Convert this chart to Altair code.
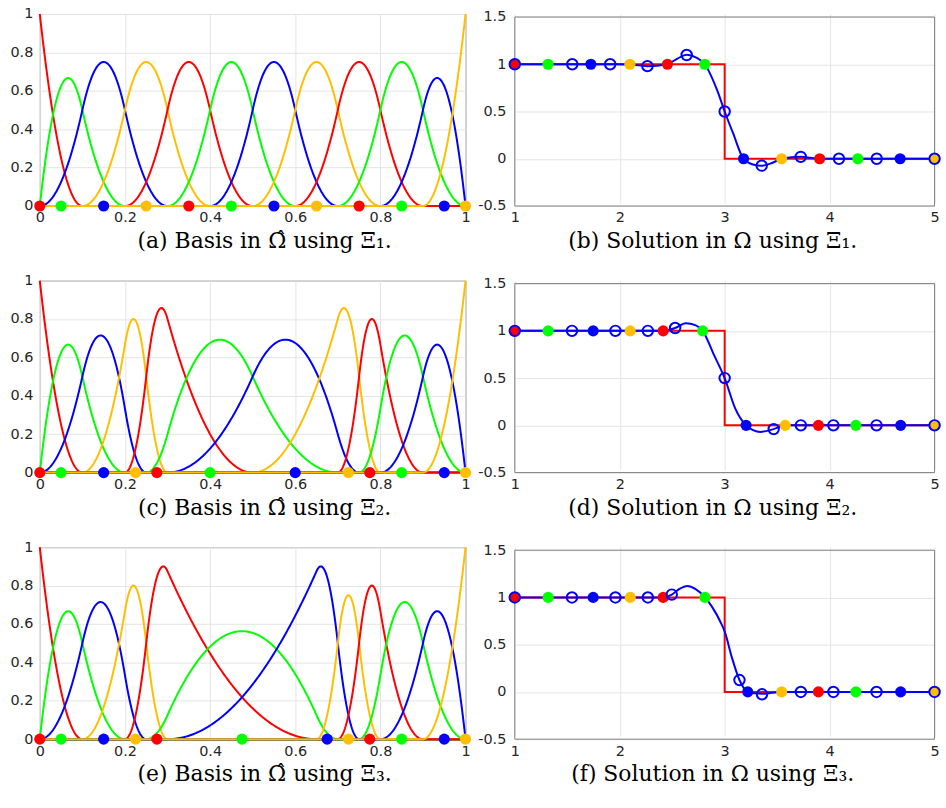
import altair as alt
import numpy as np
import pandas as pd

# ---------------------------------------------------------------------------
# Quadratic B-spline knot vectors on the reference interval [0, 1]
# ---------------------------------------------------------------------------
DEGREE = 2
knots_1 = [0, 0, 0, 0.1, 0.2, 0.3, 0.4, 0.5, 0.6, 0.7, 0.8, 0.9, 1, 1, 1]
knots_2 = [0, 0, 0, 0.1, 0.2, 0.25, 0.3, 0.5, 0.7, 0.75, 0.8, 0.9, 1, 1, 1]
knots_3 = [0, 0, 0, 0.1, 0.2, 0.25, 0.3, 0.65, 0.7, 0.75, 0.8, 0.9, 1, 1, 1]

# Greville abscissae (marker positions on the reference interval)
greville_1 = [0, 0.05, 0.15, 0.25, 0.35, 0.45, 0.55, 0.65, 0.75, 0.85, 0.95, 1]
greville_2 = [0, 0.05, 0.15, 0.225, 0.275, 0.4, 0.6, 0.725, 0.775, 0.85, 0.95, 1]
greville_3 = [0, 0.05, 0.15, 0.225, 0.275, 0.475, 0.675, 0.725, 0.775, 0.85, 0.95, 1]

# Colour cycle of the basis functions
palette = ["#ff0000", "#00ff00", "#0000ff", "#ffbf00"]

# ---------------------------------------------------------------------------
# Physical-domain solutions on [1, 5]
# ---------------------------------------------------------------------------
exact_x = [1, 3, 3, 5]
exact_y = [1, 1, 0, 0]

# mapped Greville points (coloured markers), value 1 left of the jump, 0 right
mapped_1 = [1.0, 1.317, 1.725, 2.097, 2.455, 2.81, 3.18, 3.543, 3.905, 4.269, 4.672, 5.0]
mapped_2 = [1.0, 1.318, 1.747, 2.10, 2.414, 2.79, 3.204, 3.577, 3.893, 4.25, 4.677, 5.0]
mapped_3 = [1.0, 1.318, 1.747, 2.10, 2.414, 2.812, 3.22, 3.543, 3.893, 4.25, 4.677, 5.0]
mapped_val = [1, 1, 1, 1, 1, 1, 0, 0, 0, 0, 0, 0]

# open blue circles
circ_x_1 = [1.0, 1.548, 1.909, 2.264, 2.638, 3.0, 3.353, 3.725, 4.089, 4.449, 5.0]
circ_y_1 = [1.0, 1.0, 1.0, 0.98, 1.098, 0.5, -0.073, 0.02, 0.0, 0.0, 0.0]
circ_x_2 = [1.0, 1.545, 1.959, 2.268, 2.528, 3.0, 3.467, 3.726, 4.036, 4.447, 5.0]
circ_y_2 = [1.0, 1.0, 1.0, 1.0, 1.03, 0.5, -0.04, 0.0, 0.0, 0.0, 0.0]
circ_x_3 = [1.0, 1.545, 1.959, 2.268, 2.496, 3.141, 3.356, 3.726, 4.036, 4.447, 5.0]
circ_y_3 = [1.0, 1.0, 1.0, 1.0, 1.03, 0.126, -0.025, 0.0, 0.0, 0.0, 0.0]

# approximate solution curves
sol_x_1 = [1.0, 2.0, 2.12, 2.264, 2.45, 2.55, 2.638, 2.73, 2.81, 2.93, 3.0, 3.08,
           3.18, 3.27, 3.353, 3.45, 3.543, 3.63, 3.725, 3.82, 3.905, 5.0]
sol_y_1 = [1.0, 1.0, 0.995, 0.98, 1.0, 1.06, 1.1, 1.07, 1.0, 0.72, 0.5, 0.27,
           0.0, -0.06, -0.073, -0.045, 0.0, 0.015, 0.02, 0.01, 0.0, 0.0]
sol_x_2 = [1.0, 2.3, 2.414, 2.528, 2.63, 2.72, 2.79, 2.9, 3.0, 3.1, 3.204, 3.27,
           3.34, 3.467, 3.577, 5.0]
sol_y_2 = [1.0, 1.0, 1.0, 1.03, 1.08, 1.06, 1.0, 0.74, 0.5, 0.18, 0.0, -0.05,
           -0.07, -0.04, 0.0, 0.0]
sol_x_3 = [1.0, 2.3, 2.414, 2.496, 2.57, 2.645, 2.72, 2.812, 2.88, 2.96, 3.0, 3.07,
           3.141, 3.22, 3.29, 3.356, 3.45, 3.543, 5.0]
sol_y_3 = [1.0, 1.0, 1.0, 1.03, 1.09, 1.12, 1.09, 1.0, 0.9, 0.74, 0.64, 0.36,
           0.126, 0.0, -0.015, -0.02, -0.01, 0.0, 0.0]

captions = [
    "(a) Basis in \u03A9\u0302 using \u039E\u2081.",
    "(b) Solution in \u03A9 using \u039E\u2081.",
    "(c) Basis in \u03A9\u0302 using \u039E\u2082.",
    "(d) Solution in \u03A9 using \u039E\u2082.",
    "(e) Basis in \u03A9\u0302 using \u039E\u2083.",
    "(f) Solution in \u03A9 using \u039E\u2083.",
]

LABEL_FONT = "DejaVu Sans"
CAPTION_FONT = "DejaVu Serif"
GRID = "#e4e4e4"
FRAME = "#808080"
LW = 2

LEFT_W, PANEL_H = 428, 193
RIGHT_W = 422
RIGHT_TOP = 3  # the solution panels' frame starts slightly lower


def basis_functions(knots, p, xs):
    """Cox-de Boor recursion; returns one row per basis function."""
    t = np.asarray(knots, dtype=float)
    spans = len(t) - 1
    N = np.zeros((spans, len(xs)))
    for i in range(spans):
        if t[i] < t[i + 1]:
            N[i] = ((xs >= t[i]) & (xs < t[i + 1])).astype(float)
    last = max(i for i in range(spans) if t[i] < t[i + 1])
    N[last, xs >= t[-1]] = 1.0
    for k in range(1, p + 1):
        M = np.zeros((spans - k, len(xs)))
        for i in range(spans - k):
            a = t[i + k] - t[i]
            b = t[i + k + 1] - t[i + 1]
            if a > 0:
                M[i] += (xs - t[i]) / a * N[i]
            if b > 0:
                M[i] += (t[i + k + 1] - xs) / b * N[i + 1]
        N = M
    return N


def make_axis(values, pad):
    return alt.Axis(values=values, labelExpr="'' + datum.value", grid=True,
                    gridColor=GRID, gridWidth=1, ticks=False, domain=False,
                    title=None, labelFont=LABEL_FONT, labelFontSize=14.5,
                    labelColor="#262626", labelPadding=pad, labelFlush=False)


def caption(text, dx):
    return alt.TitleParams(text=text, orient="bottom", anchor="middle",
                           font=CAPTION_FONT, fontSize=22, fontWeight="normal",
                           color="black", offset=7, dx=dx)


def basis_panel(knots, greville, title):
    xs = np.unique(np.concatenate([np.linspace(0, 1, 601), np.asarray(knots, float)]))
    N = basis_functions(knots, DEGREE, xs)
    xsc = alt.Scale(domain=[0, 1], nice=False, zero=False)
    ysc = alt.Scale(domain=[0, 1], nice=False, zero=False)
    xax = make_axis([0, 0.2, 0.4, 0.6, 0.8, 1], 5)
    yax = make_axis([0, 0.2, 0.4, 0.6, 0.8, 1], 7)
    layers = []
    for i in range(N.shape[0]):
        df = pd.DataFrame({"xi": xs, "N": N[i]})
        layers.append(
            alt.Chart(df).mark_line(color=palette[i % 4], strokeWidth=LW)
            .encode(x=alt.X("xi:Q", scale=xsc, axis=xax),
                    y=alt.Y("N:Q", scale=ysc, axis=yax))
        )
    dots = pd.DataFrame({"xi": greville, "N": [0.0] * len(greville),
                         "c": [palette[i % 4] for i in range(len(greville))]})
    layers.append(
        alt.Chart(dots).mark_circle(size=125, opacity=1)
        .encode(x=alt.X("xi:Q", scale=xsc, axis=xax),
                y=alt.Y("N:Q", scale=ysc, axis=yax),
                color=alt.Color("c:N", scale=None))
    )
    return alt.layer(*layers).properties(width=LEFT_W, height=PANEL_H,
                                         title=caption(title, 12))


def solution_panel(sx, sy, cx, cy, mx, title):
    xsc = alt.Scale(domain=[1, 5], nice=False, zero=False)
    ysc = alt.Scale(domain=[-0.5, 1.5], nice=False, zero=False,
                    range=[PANEL_H, RIGHT_TOP])
    xax = make_axis([1, 2, 3, 4, 5], 5)
    yax = make_axis([-0.5, 0, 0.5, 1, 1.5], 9)
    X = lambda f: alt.X(f, scale=xsc, axis=xax)
    Y = lambda f: alt.Y(f, scale=ysc, axis=yax)

    exact = pd.DataFrame({"x": exact_x, "u": exact_y, "k": range(len(exact_x))})
    curve = pd.DataFrame({"x": sx, "u": sy})
    circ = pd.DataFrame({"x": cx, "u": cy})
    mark = pd.DataFrame({"x": mx, "u": mapped_val,
                         "c": [palette[i % 4] for i in range(len(mx))]})

    frame = alt.Chart(pd.DataFrame({"f": [0]})).mark_rect(
        fillOpacity=0, stroke=FRAME, strokeWidth=1).encode(
        x=alt.value(0), x2=alt.value(RIGHT_W),
        y=alt.value(RIGHT_TOP), y2=alt.value(PANEL_H))
    l_exact = alt.Chart(exact).mark_line(color="#ff0000", strokeWidth=LW).encode(
        x=X("x:Q"), y=Y("u:Q"), order="k:Q")
    l_curve = alt.Chart(curve).mark_line(color="#0000ff", strokeWidth=LW,
                                         interpolate="monotone").encode(
        x=X("x:Q"), y=Y("u:Q"))
    l_mark = alt.Chart(mark).mark_circle(size=125, opacity=1).encode(
        x=X("x:Q"), y=Y("u:Q"), color=alt.Color("c:N", scale=None))
    l_circ = alt.Chart(circ).mark_point(shape="circle", filled=False, size=110,
                                        strokeWidth=2, color="#0000ff",
                                        opacity=1).encode(x=X("x:Q"), y=Y("u:Q"))
    return alt.layer(frame, l_exact, l_curve, l_mark, l_circ).properties(
        width=RIGHT_W, height=PANEL_H, title=caption(title, -12),
        view=alt.ViewBackground(strokeOpacity=0))


pa = basis_panel(knots_1, greville_1, captions[0])
pc = basis_panel(knots_2, greville_2, captions[2])
pe = basis_panel(knots_3, greville_3, captions[4])
pb = solution_panel(sol_x_1, sol_y_1, circ_x_1, circ_y_1, mapped_1, captions[1])
pd_ = solution_panel(sol_x_2, sol_y_2, circ_x_2, circ_y_2, mapped_2, captions[3])
pf = solution_panel(sol_x_3, sol_y_3, circ_x_3, circ_y_3, mapped_3, captions[5])

chart = alt.concat(
    pa, pb, pc, pd_, pe, pf, columns=2, bounds="flush",
    spacing=alt.RowColnumber(row=75, column=49.5),
).properties(
    padding={"left": 9, "top": 3, "right": 2, "bottom": 2},
    background="white",
).configure_view(stroke=FRAME, strokeWidth=1)

chart.save("out.html", embed_options={"renderer": "svg", "actions": False})
